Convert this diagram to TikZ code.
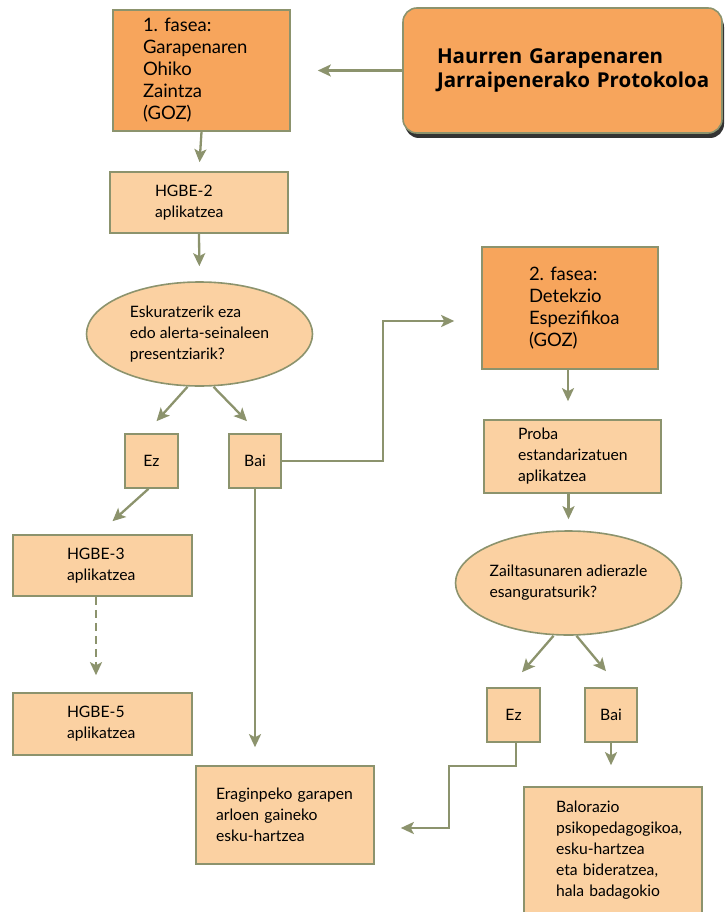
\documentclass[tikz,border=0pt]{standalone}
\usepackage{fontspec}
\setmainfont{Lato}
\newfontfamily\izenfamily{Open Sans}
\usetikzlibrary{arrows.meta,shapes.geometric,shadows}
\definecolor{fasedark}{HTML}{F7A55C}
\definecolor{faselight}{HTML}{FBD1A2}
\definecolor{lerro}{HTML}{8C936D}
\newcommand{\kutxafont}{\fontsize{15.7}{21}\selectfont}
\newcommand{\fasefont}{\fontsize{18.5}{22}\selectfont}
\newcommand{\izenfont}{\izenfamily\fontsize{20.5}{24}\selectfont\bfseries}
\tikzset{
kutxa/.style={draw=lerro, line width=1.6pt, fill=faselight, inner xsep=0pt, inner ysep=0pt, align=left, font=\kutxafont},
neurria/.style n args={3}{text width=#1, minimum height=#2, execute at begin node={\leftskip=#3\relax}},
erantzun/.style={draw=lerro, line width=1.6pt, fill=faselight, inner sep=0pt, minimum width=53pt, minimum height=54pt, font=\kutxafont},
galdera/.style={ellipse, draw=lerro, line width=1.6pt, fill=faselight, inner sep=0pt, align=left, minimum width=226pt, minimum height=104pt, font=\kutxafont},
gezi/.style={draw=lerro, line width=2.3pt, -{Stealth[length=13pt,width=12pt,inset=3pt]}},
}
\begin{document}
\begin{tikzpicture}[x=1pt,y=-1pt]
\useasboundingbox (0,0) rectangle (724,912);

\node[kutxa, fill=fasedark, font=\fasefont, neurria={177pt}{121pt}{30pt}] (fase1) at (201.5,70.5) {1.\ fasea:\\Garapenaren\\Ohiko\\Zaintza\\(GOZ)};
\node[kutxa, fill=fasedark, font=\izenfont, rounded corners=14pt, neurria={319pt}{125pt}{34pt},
  drop shadow={shadow xshift=2pt, shadow yshift=-5pt, fill=black, opacity=0.8}] (titulua) at (562.5,70.5) {Haurren Garapenaren\\Jarraipenerako Protokoloa};
\node[kutxa, neurria={178pt}{61pt}{45pt}] (hgbe2) at (199,202.5) {HGBE-2\\aplikatzea};
\node[galdera] (galdera1) at (199.5,334) {Eskuratzerik eza\\edo alerta-seinaleen\\presentziarik?};
\node[erantzun] (ez1) at (151.5,461) {Ez};
\node[erantzun, minimum width=52pt] (bai1) at (255,461) {Bai};
\node[kutxa, neurria={179pt}{61pt}{54pt}] (hgbe3) at (102.5,565.5) {HGBE-3\\aplikatzea};
\node[kutxa, neurria={179pt}{62pt}{54pt}] (hgbe5) at (102.5,724) {HGBE-5\\aplikatzea};
\node[kutxa, neurria={178pt}{98pt}{20pt}] (eragin) at (285,815) {Eraginpeko garapen\\arloen gaineko\\esku-hartzea};

\node[kutxa, fill=fasedark, font=\fasefont, neurria={176pt}{122pt}{47pt}] (fase2) at (570,308) {2.\ fasea:\\Detekzio\\Espezifikoa\\(GOZ)};
\node[kutxa, neurria={177pt}{73pt}{34pt}] (proba) at (572.5,456.5) {Proba\\estandarizatuen\\aplikatzea};
\node[galdera] (galdera2) at (568.5,583) {Zailtasunaren adierazle\\esanguratsurik?};
\node[erantzun] (ez2) at (513.5,715) {Ez};
\node[erantzun, minimum width=52pt] (bai2) at (611,715) {Bai};
\node[kutxa, neurria={178pt}{126pt}{32pt}] (balorazio) at (613,850) {Balorazio\\psikopedagogikoa,\\esku-hartzea\\eta bideratzea,\\hala badagokio};

% geziak
\draw[gezi, shorten >=27pt] (titulua.west) -- (titulua.west -| fase1.east);
\draw[gezi, shorten >=9pt] (fase1.south) -- (hgbe2.north);
\draw[gezi, shorten >=15pt] (hgbe2.south) -- (galdera1.north);
\draw[gezi] ([xshift=-12pt]galdera1.south) -- ([xshift=5pt,yshift=12pt]ez1.north);
\draw[gezi] ([xshift=14pt]galdera1.south) -- ([xshift=-8pt,yshift=12pt]bai1.north);
\draw[gezi] (bai1.east) -- ++(101,0) |- ([xshift=-27pt,yshift=-13pt]fase2.west);
\draw[gezi, shorten >=18pt] (bai1.south) -- (bai1.south |- eragin.north);
\draw[gezi] ([xshift=-3pt]ez1.south) -- ([xshift=10pt,yshift=13pt]hgbe3.north);
\draw[gezi, dash pattern=on 8pt off 5pt, shorten >=17pt] ([xshift=-6.5pt]hgbe3.south) -- ([xshift=-6.5pt]hgbe5.north);
\draw[gezi, shorten >=18pt] ([xshift=-2pt]fase2.south) -- ([xshift=-2pt]fase2.south |- proba.north);
\draw[gezi, shorten >=11pt] ([xshift=-4pt]proba.south) -- ([xshift=-4pt]proba.south |- galdera2.north);
\draw[gezi] ([xshift=-15pt]galdera2.south) -- ([xshift=8.5pt,yshift=15pt]ez2.north);
\draw[gezi] ([xshift=8pt]galdera2.south) -- ([xshift=-5pt,yshift=16pt]bai2.north);
\draw[gezi] ([xshift=2.5pt]ez2.south) -- ++(0,23) -| ([xshift=74pt,yshift=-13pt]eragin.east) -- ([xshift=26pt,yshift=-13pt]eragin.east);
\draw[gezi, shorten >=21pt] (bai2.south) -- (bai2.south |- balorazio.north);
\end{tikzpicture}
\end{document}
